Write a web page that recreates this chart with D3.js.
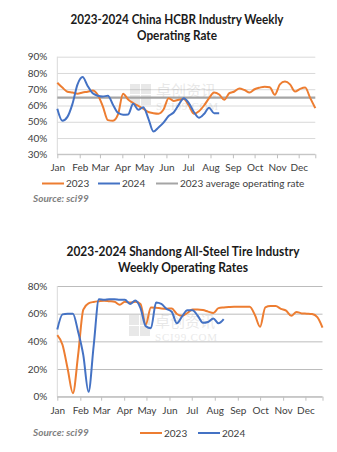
<!DOCTYPE html>
<html>
<head>
<meta charset="utf-8">
<script src="https://cdn.jsdelivr.net/npm/d3@7"></script>
<style>
  html, body { margin: 0; padding: 0; background: #fff; }
  svg { display: block; font-family: Lato, "Open Sans", sans-serif; }
</style>
</head>
<body>
<svg id="chart" width="337" height="452"></svg>
<script>
// ---------- DATA ----------
const monthLabels = ["Jan","Feb","Mar","Apr","May","Jun","Jul","Aug","Sep","Oct","Nov","Dec"];
const weekCount = 52;
const seriesNames = ["2023", "2024"];

// Chart 1: China HCBR weekly operating rate (%)
const hcbr2023 = [74,71,68.5,68,67.3,68,68.5,69.2,66.5,59.5,51,50.6,54.5,67.2,63.7,61.5,59.8,58,56,55.3,55,57.5,64.5,62.8,63.5,64,60,55,56.5,60,64.5,68,66.8,63.5,67.6,68.6,70.5,69.5,68,70,71,71.6,71.2,66.6,73,74.7,73,68.6,70.2,71,64.5,58.4];
const hcbr2024 = [58,50.6,53,61,73,77.5,72,67.5,66,65.5,66,60.5,55.5,54.3,54.5,61,57.4,59,52,44,46.5,49.5,53.5,55.7,60.4,64.5,61.5,56,52.5,54.8,58.6,55.3,55.3];
const hcbrAvg2023 = 64.9;
const hcbrTicks = [30,40,50,60,70,80,90];

// Chart 2: Shandong all-steel tire weekly operating rate (%)
const sd2023 = [44.5,37.5,20,2.5,30,63,67.5,68.5,69,69.4,69,68.6,66.5,68.6,68,68.6,67,52,64.5,64.3,63.8,63.6,63.8,59.8,58.5,60.5,63.1,63.1,62.6,61.5,60.5,64,64.5,64.8,65,65,65,65,59,50.5,64.6,65.5,65.5,63.5,62.2,58.5,61.3,60.2,60,59.7,57.5,50];
const sd2024 = [48.5,59.5,60,60,47,30,3.5,37,70.4,70,70.5,70.5,70,70,67,69.5,64,51,49.5,68,67,63.5,61.4,53,58,62.5,62.5,58.5,53.4,54,56.6,53,56];
const sdTicks = [0,20,40,60,80];

// week categories (2023 calendar weeks) and month starts
const weekDates = d3.range(weekCount).map(i => d3.timeDay.offset(new Date(2023,0,1), 7*i));
const monthStarts = monthLabels.map((m,i) => new Date(2023, i, 1));

// ---------- STYLE ----------
const C23 = "#ED7D31", C24 = "#4472C4", CAVG = "#A5A5A5";
const svg = d3.select("#chart");

function drawChart(o) {
  const g = svg.append("g");
  const x = d3.scaleTime().domain([weekDates[0], weekDates[weekCount-1]]).range([o.left, o.right]);
  const y = d3.scaleLinear().domain(o.yDomain).range([o.bottom, o.top]);

  // title
  o.title.forEach((t, i) => {
    g.append("text").attr("x", o.titleX).attr("y", o.titleY + i*o.titleGap)
      .attr("text-anchor", "middle").attr("font-size", 13).attr("font-weight", 700)
      .attr("fill", "#1a1a1a")
      .attr("textLength", o.titleLen[i]).attr("lengthAdjust", "spacingAndGlyphs")
      .text(t);
  });

  // y axis with gridlines
  const ya = g.append("g").attr("transform", `translate(${o.left},0)`)
    .call(d3.axisLeft(y).tickValues(o.yTicks).tickSize(-(o.right - o.left)).tickPadding(10).tickFormat(d => d + "%"));
  ya.select(".domain").remove();
  ya.selectAll(".tick line").attr("stroke", o.gridColor).attr("stroke-width", 1);
  ya.selectAll(".tick text").attr("font-size", 10).attr("fill", "#404040").attr("font-family", "Lato, sans-serif");
  // left axis line
  g.append("line").attr("x1", o.left).attr("x2", o.left).attr("y1", o.top).attr("y2", o.bottom)
    .attr("stroke", "#d9d9d9");

  // x axis
  const xa = g.append("g").attr("transform", `translate(0,${o.bottom})`)
    .call(d3.axisBottom(x).tickValues(monthStarts.concat([weekDates[weekCount-1]]))
      .tickSize(4).tickPadding(6)
      .tickFormat((d, i) => i < monthLabels.length ? monthLabels[i] : ""));
  xa.select(".domain").attr("stroke", "#bfbfbf").attr("d", `M${o.left},0H${o.right}`);
  xa.selectAll(".tick line").attr("stroke", "#bfbfbf");
  xa.selectAll(".tick text").attr("font-size", 10).attr("fill", "#404040").attr("font-family", "Lato, sans-serif");

  // watermark
  const wm = g.append("g").attr("opacity", 0.16);
  [[0,0],[11,0],[0,11],[11,11]].forEach(([dx,dy]) => {
    wm.append("rect").attr("x", o.wmX - 26 + dx).attr("y", o.wmY - 12 + dy).attr("width", 10).attr("height", 10).attr("fill", "#777");
  });
  wm.append("text").attr("x", o.wmX).attr("y", o.wmY).attr("font-size", 15).attr("fill", "#777")
    .attr("font-family", "Noto Sans CJK SC").text("卓创资讯");
  wm.append("text").attr("x", o.wmX).attr("y", o.wmY + 14).attr("font-size", 11).attr("fill", "#777")
    .attr("font-family", "Liberation Serif, serif").attr("textLength", 62).text("SCI99.COM");

  // avg line
  if (o.avg !== undefined) {
    g.append("line").attr("x1", o.left).attr("x2", o.right).attr("y1", y(o.avg)).attr("y2", y(o.avg))
      .attr("stroke", CAVG).attr("stroke-width", 2.2);
  }

  const line = d3.line().x((d, i) => x(weekDates[i])).y(d => y(d)).curve(d3.curveMonotoneX);
  g.append("path").datum(o.s23).attr("d", line).attr("fill", "none").attr("stroke", C23).attr("stroke-width", 2).attr("stroke-linejoin", "round");
  g.append("path").datum(o.s24).attr("d", line).attr("fill", "none").attr("stroke", C24).attr("stroke-width", 2).attr("stroke-linejoin", "round");

  // legend
  o.legend.forEach(l => {
    g.append("line").attr("x1", l.x).attr("x2", l.x + 22).attr("y1", o.legendY).attr("y2", o.legendY)
      .attr("stroke", l.color).attr("stroke-width", 2);
    g.append("text").attr("x", l.x + 24).attr("y", o.legendY + 3.5).attr("font-size", 10)
      .attr("fill", "#404040").text(l.label);
  });

  // source
  g.append("text").attr("x", 33).attr("y", o.sourceY).attr("font-size", 10).attr("font-style", "italic")
    .attr("font-weight", 700).attr("fill", "#7f7f7f").text("Source: sci99");
}

drawChart({
  title: ["2023-2024 China HCBR Industry Weekly", "Operating Rate"],
  titleX: 177, titleY: 24, titleGap: 15.5, titleLen: [213, 80],
  left: 57.3, right: 315.3, top: 56.7, bottom: 154.3,
  yDomain: [30, 90], yTicks: hcbrTicks, gridColor: "#d9d9d9",
  s23: hcbr2023, s24: hcbr2024, avg: hcbrAvg2023,
  wmX: 156, wmY: 96,
  legendY: 183.5,
  legend: [
    {x: 42, color: C23, label: seriesNames[0]},
    {x: 98, color: C24, label: seriesNames[1]},
    {x: 156, color: CAVG, label: "2023 average operating rate"}
  ],
  sourceY: 202
});

drawChart({
  title: ["2023-2024 Shandong All-Steel Tire Industry", "Weekly Operating Rates"],
  titleX: 183, titleY: 255.5, titleGap: 16.5, titleLen: [233, 130],
  left: 57.3, right: 322.5, top: 286, bottom: 396.7,
  yDomain: [0, 80], yTicks: sdTicks, gridColor: "#bcbcbc",
  s23: sd2023, s24: sd2024,
  wmX: 155, wmY: 327,
  legendY: 433,
  legend: [
    {x: 140, color: C23, label: seriesNames[0]},
    {x: 198, color: C24, label: seriesNames[1]}
  ],
  sourceY: 436
});
</script>
</body>
</html>
